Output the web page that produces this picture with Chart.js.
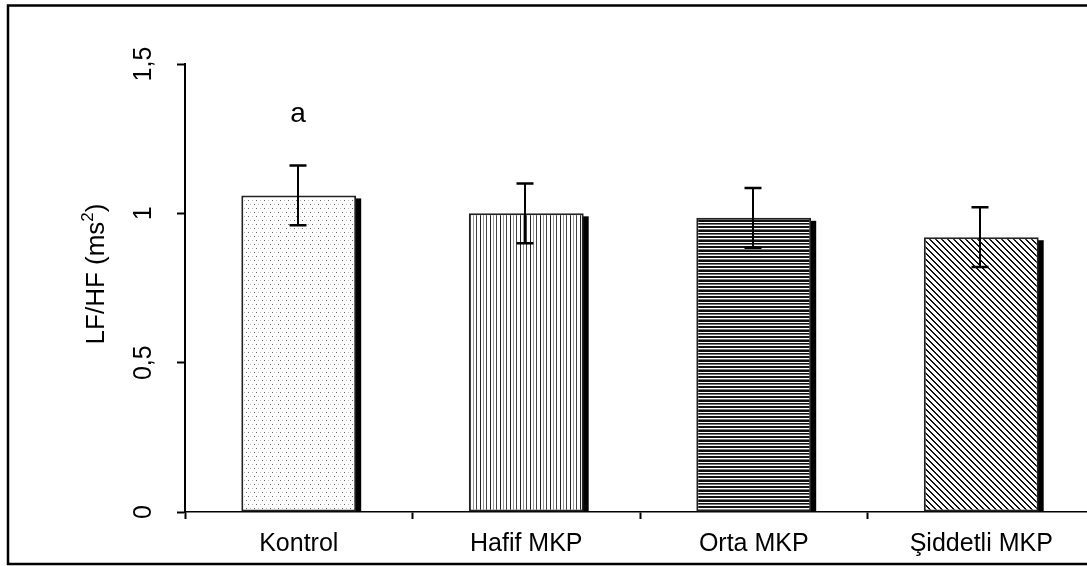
<!DOCTYPE html>
<html>
<head>
<meta charset="utf-8">
<script src="https://cdn.jsdelivr.net/npm/chart.js@4"></script>
<style>
    html, body { margin: 0; padding: 0; background: #fff; overflow: hidden; width: 1087px; height: 566px; }
    #wrap { position: absolute; left: 0; top: 0; width: 1100px; height: 566px; }
</style>
</head>
<body>
<div id="wrap"><canvas id="lfhfChart" width="1100" height="566"></canvas></div>
<script>
const categories = ["Kontrol", "Hafif MKP", "Orta MKP", "Şiddetli MKP"]
const means = [1.06, 1.0, 0.985, 0.92]
const errors = [0.1, 0.1, 0.1, 0.1]
const sigLetters = ["a", "", "", ""]
const yTicks = [0, 0.5, 1, 1.5]
const yTitle = ["LF/HF (ms", "2", ")"]

const FONT = "'Liberation Sans', Arial, sans-serif"

const makePattern = (w, h, draw) => {
    const c = document.createElement("canvas")
    c.width = w
    c.height = h
    const g = c.getContext("2d")
    g.fillStyle = "#fff"
    g.fillRect(0, 0, w, h)
    draw(g)
    return c.getContext("2d").createPattern(c, "repeat")
}

// dotted fill
const dotPattern = makePattern(8, 8, (g) => {
    g.fillStyle = "#666"; g.fillRect(0, 0, 1, 1); g.fillRect(6, 4, 1, 1)
    g.fillStyle = "#bbb"; g.fillRect(4, 0, 1, 1); g.fillRect(2, 4, 1, 1)
})
// vertical lines
const vLinePattern = makePattern(10, 4, (g) => {
    g.fillStyle = "#222"; g.fillRect(0, 0, 1, 4)
    g.fillStyle = "#999"; g.fillRect(3, 0, 1, 4)
    g.fillStyle = "#444"; g.fillRect(6, 0, 1, 4)
})
// horizontal lines
const hLinePattern = makePattern(4, 10, (g) => {
    g.fillStyle = "#111"; g.fillRect(0, 0, 4, 2); g.fillRect(0, 3, 4, 1); g.fillRect(0, 6, 4, 2)
    g.fillStyle = "#777"; g.fillRect(0, 4, 4, 1); g.fillRect(0, 9, 4, 1)
})
// diagonal lines "\"
const diagPattern = makePattern(6, 6, (g) => {
    g.fillStyle = "#111"
    for (let y = 0; y < 6; y++) {
        g.fillRect(y % 6, y, 1, 1)
        g.fillRect((y + 1) % 6, y, 1, 1)
    }
})

const fills = [dotPattern, vLinePattern, hLinePattern, diagPattern]

const shadowPlugin = {
    id: "shadow",
    beforeDatasetsDraw: (chart) => {
        const ctx = chart.ctx
        chart.getDatasetMeta(0).data.forEach((bar) => {
            const p = bar.getProps(["x", "y", "base", "width"], true)
            ctx.fillStyle = "#000"
            ctx.fillRect(p.x + p.width / 2 - 1, p.y + 3, 6, p.base - p.y - 3)
        })
    }
}

const errorBarPlugin = {
    id: "errorBars",
    afterDatasetsDraw: (chart) => {
        const ctx = chart.ctx
        const yScale = chart.scales.y
        ctx.save()
        ctx.strokeStyle = "#000"
        chart.getDatasetMeta(0).data.forEach((bar, i) => {
            const x = Math.round(bar.x) - 1
            const top = yScale.getPixelForValue(means[i] + errors[i])
            const bottom = yScale.getPixelForValue(means[i] - errors[i])
            ctx.lineWidth = 2
            ctx.beginPath()
            ctx.moveTo(x, top)
            ctx.lineTo(x, bottom)
            ctx.stroke()
            ctx.lineWidth = 2.5
            ctx.beginPath()
            ctx.moveTo(x - 8.5, top)
            ctx.lineTo(x + 8.5, top)
            ctx.moveTo(x - 8.5, bottom)
            ctx.lineTo(x + 8.5, bottom)
            ctx.stroke()

            if (sigLetters[i]) {
                ctx.fillStyle = "#000"
                ctx.font = "28px " + FONT
                ctx.textAlign = "center"
                ctx.textBaseline = "alphabetic"
                ctx.fillText(sigLetters[i], x, top - 44)
            }
        })
        ctx.restore()
    }
}

const textPlugin = {
    id: "rotatedText",
    afterDraw: (chart) => {
        const ctx = chart.ctx
        const yScale = chart.scales.y
        ctx.save()
        ctx.fillStyle = "#000"
        ctx.font = "25px " + FONT
        ctx.textBaseline = "alphabetic"
        ctx.textAlign = "center"

        // y tick labels, rotated
        yScale.ticks.forEach((t) => {
            const py = yScale.getPixelForValue(t.value)
            ctx.save()
            ctx.translate(151, py)
            ctx.rotate(-Math.PI / 2)
            ctx.fillText(String(t.value).replace(".", ","), 0, 0)
            ctx.restore()
        })

        // y axis title with superscript
        ctx.save()
        ctx.translate(104, 274)
        ctx.rotate(-Math.PI / 2)
        ctx.textAlign = "left"
        const mainFont = "26px " + FONT
        const supFont = "17px " + FONT
        ctx.font = mainFont
        const w0 = ctx.measureText(yTitle[0]).width
        const w2 = ctx.measureText(yTitle[2]).width
        ctx.font = supFont
        const w1 = ctx.measureText(yTitle[1]).width
        let x = -(w0 + w1 + w2) / 2
        ctx.font = mainFont
        ctx.fillText(yTitle[0], x, 0)
        x += w0
        ctx.font = supFont
        ctx.fillText(yTitle[1], x, -11)
        x += w1
        ctx.font = mainFont
        ctx.fillText(yTitle[2], x, 0)
        ctx.restore()

        // outer frame
        ctx.strokeStyle = "#000"
        ctx.lineWidth = 2.5
        ctx.strokeRect(8, 5.5, 1300, 558.5)
        ctx.restore()
    }
}

const ctx = document.getElementById("lfhfChart").getContext("2d")

new Chart(ctx, {
    type: "bar",
    data: {
        labels: categories,
        datasets: [{
            label: "LF/HF",
            data: means,
            backgroundColor: fills,
            borderColor: "#222",
            borderWidth: 2,
            borderSkipped: false,
            barPercentage: 0.505,
            categoryPercentage: 1
        }]
    },
    options: {
        responsive: false,
        devicePixelRatio: 1,
        animation: false,
        layout: { padding: { left: 0, top: 64, right: 5, bottom: 0 } },
        plugins: {
            legend: { display: false },
            tooltip: { enabled: false }
        },
        scales: {
            x: {
                afterFit: (scale) => { scale.height = 54 },
                grid: {
                    offset: true,
                    drawOnChartArea: false,
                    drawTicks: true,
                    tickLength: 7,
                    tickWidth: 2,
                    color: "#000"
                },
                border: { display: true, color: "#000", width: 1.5 },
                ticks: {
                    color: "#000",
                    padding: 10,
                    maxRotation: 0,
                    font: { family: FONT, size: 25 }
                }
            },
            y: {
                min: 0,
                max: 1.5,
                afterFit: (scale) => { scale.width = 185 },
                afterBuildTicks: (scale) => { scale.ticks = yTicks.map((v) => ({ value: v })) },
                grid: {
                    drawOnChartArea: false,
                    drawTicks: true,
                    tickLength: 8,
                    tickWidth: 2,
                    color: "#000"
                },
                border: { display: true, color: "#000", width: 2 },
                ticks: { display: false }
            }
        }
    },
    plugins: [shadowPlugin, errorBarPlugin, textPlugin]
})
</script>
</body>
</html>
